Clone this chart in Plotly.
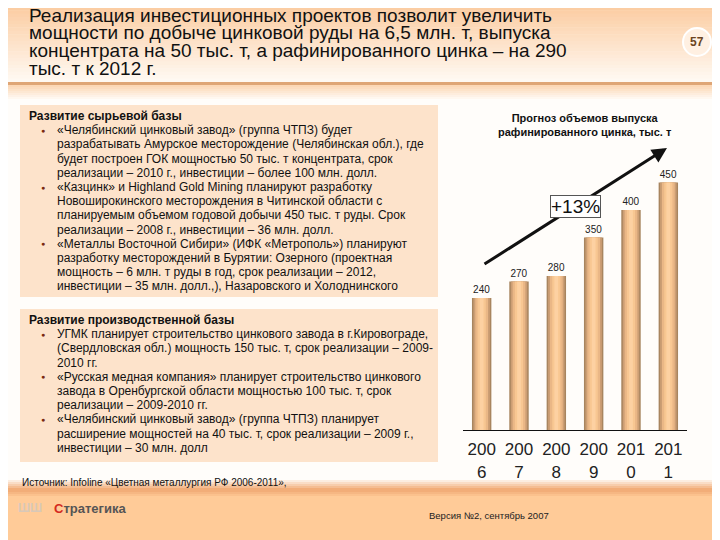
import plotly.graph_objects as go

W, H = 720, 540
# the page puts the figure 8px in from the top-left corner, so coordinates below are shifted back by that much
OFF = 8

years = ['2006', '2007', '2008', '2009', '2010', '2011']
year_labels = ['200<br>6', '200<br>7', '200<br>8', '200<br>9', '201<br>0', '201<br>1']
zinc_output = [240, 270, 280, 350, 400, 450]
growth_label = '+13%'

title_lines = [
    'Реализация инвестиционных проектов позволит увеличить',
    'мощности по добыче цинковой руды на 6,5 млн. т, выпуска',
    'концентрата на 50 тыс. т, а рафинированного цинка – на 290',
    'тыс. т к 2012 г.',
]

raw_base_lines = [
    ('«Челябинский цинковый завод» (группа ЧТПЗ) будет', True),
    ('разрабатывать Амурское месторождение (Челябинская обл.), где', False),
    ('будет построен ГОК мощностью 50 тыс. т концентрата, срок', False),
    ('реализации – 2010 г., инвестиции – более 100 млн. долл.', False),
    ('«Казцинк» и Highland Gold Mining планируют разработку', True),
    ('Новоширокинского месторождения в Читинской области с', False),
    ('планируемым объемом годовой добычи 450 тыс. т руды. Срок', False),
    ('реализации – 2008 г., инвестиции – 36 млн. долл.', False),
    ('«Металлы Восточной Сибири» (ИФК «Метрополь») планируют', True),
    ('разработку месторождений в Бурятии: Озерного (проектная', False),
    ('мощность – 6 млн. т руды в год, срок реализации – 2012,', False),
    ('инвестиции – 35 млн. долл.,), Назаровского и Холоднинского', False),
]

prod_base_lines = [
    ('УГМК планирует строительство цинкового завода в г.Кировограде,', True),
    ('(Свердловская обл.) мощность 150 тыс. т, срок реализации – 2009-', False),
    ('2010 гг.', False),
    ('«Русская медная компания» планирует строительство цинкового', True),
    ('завода в Оренбургской области мощностью 100 тыс. т, срок', False),
    ('реализации – 2009-2010 гг.', False),
    ('«Челябинский цинковый завод» (группа ЧТПЗ) планирует', True),
    ('расширение мощностей на 40 тыс. т, срок реализации – 2009 г.,', False),
    ('инвестиции – 30 млн. долл', False),
]

FONT = 'Liberation Sans, Arial, sans-serif'


def px(x):
    return (x - OFF) / W


def py(y):
    return 1 - (y - OFF) / H


def mix(c1, c2, t):
    a = [int(c1[i:i + 2], 16) for i in (1, 3, 5)]
    b = [int(c2[i:i + 2], 16) for i in (1, 3, 5)]
    return '#%02x%02x%02x' % tuple(round(a[k] + (b[k] - a[k]) * t) for k in range(3))


def band(y0, y1, color):
    return dict(type='rect', xref='paper', yref='paper', x0=0, x1=1, y0=py(y1), y1=py(y0),
                fillcolor=color, line=dict(width=0), layer='below')


def label(text, x, y, size, color='#111111', anchor='left', bold=False, family=FONT):
    if bold:
        text = '<b>' + text + '</b>'
    return dict(text=text, x=px(x), y=py(y), xref='paper', yref='paper', xanchor=anchor, yanchor='middle',
                align=anchor, showarrow=False, font=dict(size=size, color=color, family=family))


fig = go.Figure()

# bars drawn as stacked overlays to fake the cylinder shading
shades = [(0.52, '#a8855f'), (0.44, '#cc9e74'), (0.34, '#eab786'), (0.22, '#f8c792'), (0.10, '#fdd1a2')]
for i, (wd, col) in enumerate(shades):
    fig.add_trace(go.Bar(
        x=years, y=zinc_output, width=wd, marker=dict(color=col, line=dict(width=0)),
        text=zinc_output if i == 0 else None, textposition='outside' if i == 0 else 'none',
        textfont=dict(size=10, color='#222222', family=FONT),
        cliponaxis=False, hoverinfo='skip', showlegend=False))

shapes = []
annotations = []

# header gradient
n = 24
for k in range(n):
    shapes.append(band(82 * k / n, 82 * (k + 1) / n + 0.5, mix('#fbc99c', '#fff9f2', k / (n - 1))))
shapes.append(band(82, 85, '#dfa676'))
for k in range(8):
    shapes.append(band(85 + 2 * k, 87.5 + 2 * k, mix('#fcd8b6', '#fffdfa', k / 7)))

# footer band
for k in range(6):
    shapes.append(band(478 + 2 * k, 480.5 + 2 * k, mix('#fffdfa', '#f2ad78', k / 5)))
for k in range(4):
    shapes.append(band(490 + 2 * k, 492.5 + 2 * k, mix('#f2ad78', '#ffcb98', k / 3)))
shapes.append(band(498, 560, '#ffcb98'))

# text boxes
shapes.append(dict(type='rect', xref='paper', yref='paper', x0=px(20), x1=px(438), y0=py(297), y1=py(105),
                   fillcolor='#fde3cb', line=dict(width=0), layer='below'))
shapes.append(dict(type='rect', xref='paper', yref='paper', x0=px(20), x1=px(438), y0=py(462), y1=py(309),
                   fillcolor='#fde3cb', line=dict(width=0), layer='below'))

# page number badge
shapes.append(dict(type='circle', xref='paper', yref='paper', x0=px(683), x1=px(711), y0=py(56), y1=py(28),
                   fillcolor='#fff0e2', line=dict(color='#ffffff', width=2)))
annotations.append(label('57', 697, 42, 12, color='#6b4420', anchor='center', bold=True))

for line, yy in zip(title_lines, [15.5, 33, 51, 69]):
    annotations.append(label(line, 27, yy, 19))


def add_box_text(heading, lines, y_head):
    annotations.append(label(heading, 27, y_head, 12, bold=True))
    for i, (txt, bullet) in enumerate(lines):
        yy = y_head + 14.2 * (i + 1)
        annotations.append(label(txt, 55, yy, 12))
        if bullet:
            annotations.append(label('●', 43, yy, 7, color='#7a2a12', anchor='center'))


add_box_text('Развитие сырьевой базы', raw_base_lines, 116)
add_box_text('Развитие производственной базы', prod_base_lines, 320)

annotations.append(label('Источник: Infoline «Цветная металлургия РФ 2006-2011»,', 20, 482, 10))
annotations.append(label('Версия №2, сентябрь 2007', 489, 515, 9.5, color='#222222', anchor='center'))
annotations.append(label('<span style="color:#d42a20">С</span>тратегика', 52, 508, 13, color='#555555', bold=True))
annotations.append(label('ШШ', 16, 508, 12, color='#d8c8b8', bold=True))

# chart title
annotations.append(label('Прогноз объемов выпуска<br>рафинированного цинка, тыс. т', 585, 125, 11,
                         anchor='center', bold=True))

# growth arrow
annotations.append(dict(x=px(667), y=py(148), xref='paper', yref='paper', ax=-184, ay=117,
                        showarrow=True, arrowhead=2, arrowsize=1, arrowwidth=3, arrowcolor='#111111',
                        text='', standoff=0))
growth = label(growth_label, 575, 207, 19, anchor='center')
growth.update(bgcolor='#ffffff', bordercolor='#555555', borderwidth=1, borderpad=0)
annotations.append(growth)

fig.update_layout(
    width=W, height=H,
    margin=dict(l=0, r=0, t=0, b=0),
    paper_bgcolor='#fffdfa',
    plot_bgcolor='rgba(0,0,0,0)',
    barmode='overlay',
    showlegend=False,
    shapes=shapes,
    annotations=annotations,
    xaxis=dict(domain=[px(463), px(687)], tickmode='array', tickvals=years, ticktext=year_labels,
               showline=True, linecolor='#111111', linewidth=1, ticks='', showgrid=False,
               ticklabelstandoff=4,
               tickfont=dict(size=17, color='#222222', family=FONT), fixedrange=True),
    yaxis=dict(domain=[py(430), py(160)], range=[0, 491], visible=False, showgrid=False, fixedrange=True),
)

fig.write_html("out.html")
